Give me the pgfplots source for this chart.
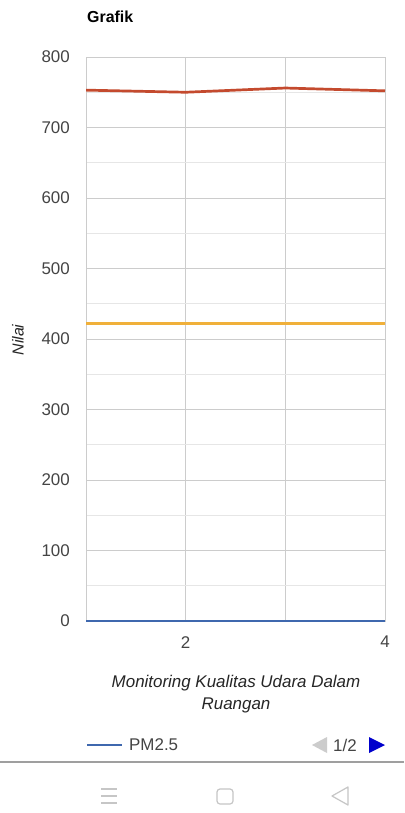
\documentclass[border=0pt]{standalone}
\usepackage{pgfplots}
\pgfplotsset{compat=1.18}
\usepackage{fontspec}
\setmainfont{Liberation Sans}
\definecolor{cblue}{HTML}{3F68AE}
\definecolor{cred}{HTML}{C44A2E}
\definecolor{corange}{HTML}{F0B03A}
\definecolor{gmaj}{HTML}{CCCCCC}
\definecolor{gmin}{HTML}{E6E6E6}
\definecolor{tickc}{HTML}{444444}
\begin{document}
\begin{tikzpicture}[x=1bp,y=1bp]
\fill[white] (0,0) rectangle (404,-813);
\path[use as bounding box] (0,0) rectangle (404,-813);
\node[anchor=base west, inner sep=0pt, font=\fontsize{16}{18}\selectfont\bfseries] at (87,-23) {Grafik};
\begin{axis}[
  at={(86bp,-621bp)}, anchor=south west,
  scale only axis, width=299bp, height=564bp,
  xmin=1, xmax=4, ymin=0, ymax=800,
  xtick={1,2,3,4}, xticklabels={,2,,4},
  ytick={0,100,...,800},
  minor y tick num=1,
  grid=both,
  major grid style={gmaj, line width=0.8bp},
  minor grid style={gmin, line width=0.8bp},
  axis line style={gmaj, line width=0.8bp},
  tick style={draw=none},
  /pgf/number format/assume math mode=true,
  ticklabel style={font=\fontsize{17}{20}\selectfont, text=tickc},
  yticklabel style={anchor=east, inner sep=0pt, xshift=-16bp},
  xticklabel style={anchor=north, inner sep=0pt, yshift=-15bp},
  legend style={at={(0,-0.2199)}, anchor=west, draw=none, fill=none, inner sep=0pt,
    font=\fontsize{17}{20}\selectfont, text=tickc},
  legend image code/.code={\draw[#1] (0bp,0bp) -- (35bp,0bp); \path (39bp,0bp);},
  legend cell align=left,
]
\addplot[cred, line width=2.7bp, forget plot] coordinates {(1,753) (2,750) (3,756) (4,752)};
\addplot[corange, line width=3bp, forget plot] coordinates {(1,422) (2,422) (3,422) (4,422)};
\addplot[cblue, line width=2bp] coordinates {(1,0) (2,0) (3,0) (4,0)};
\addlegendentry{PM2.5}
\end{axis}
\node[rotate=90, font=\fontsize{16}{18}\selectfont\itshape, text=black!85] at (18,-340) {Nilai};
\node[align=center, font=\fontsize{17}{22}\selectfont\itshape, text=black!85] at (236,-694) {Monitoring Kualitas Udara Dalam\\Ruangan};
% pager
\fill[gray!40] (312,-745) -- (327,-737) -- (327,-753) -- cycle;
\node[anchor=west, inner sep=0pt, font=\fontsize{17}{20}\selectfont, text=tickc] at (333,-745) {1/2};
\fill[blue!80!black] (385,-745) -- (369,-737) -- (369,-753) -- cycle;
% separator and nav bar
\draw[gray!75, line width=2bp] (0,-762) -- (404,-762);
\begin{scope}[gray!45, line width=1.2bp]
\draw (101,-789) -- (117,-789);
\draw (101,-796) -- (117,-796);
\draw (101,-803) -- (117,-803);
\draw[rounded corners=3bp] (217,-789) rectangle (233,-804);
\draw[line join=round] (348,-787) -- (332,-796) -- (348,-805) -- cycle;
\end{scope}
\end{tikzpicture}
\end{document}
